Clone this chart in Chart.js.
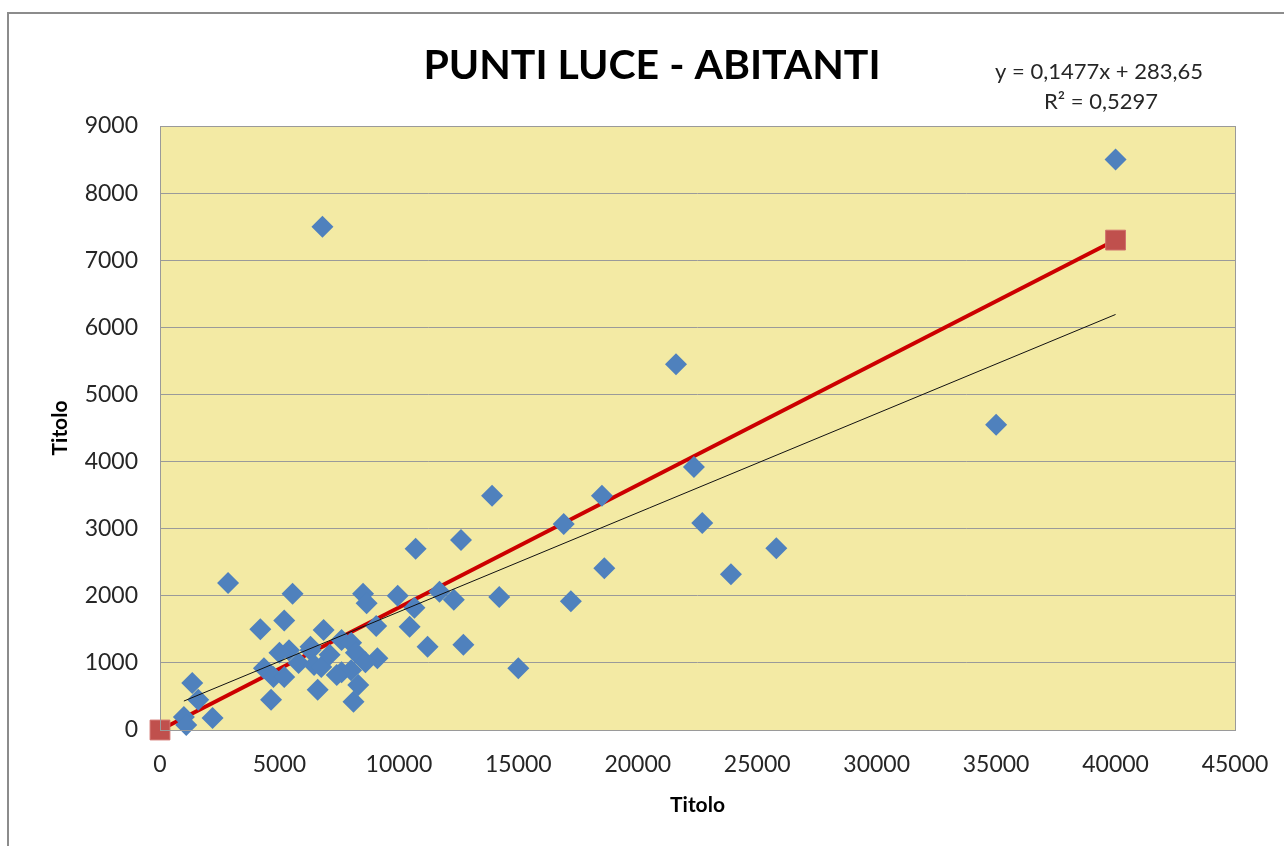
<!DOCTYPE html>
<html>
<head>
<meta charset="utf-8">
<script src="https://cdn.jsdelivr.net/npm/chart.js@4.4.1/dist/chart.umd.min.js"></script>
<style>
  html, body { margin: 0; padding: 0; background: #fff; }
  #wrap { width: 1284px; height: 846px; position: relative; }
</style>
</head>
<body>
<div id="wrap"><canvas id="scatterChart" width="1284" height="846"></canvas></div>
<script>
// abitanti (x) vs punti luce (y)
const abitanti = [
    40000, 6800, 21600, 35000, 22350, 13900, 18500, 16900, 22700, 12600,
    25800, 10700, 18600, 23900, 2850, 5550, 8500, 9950, 14200, 11700,
    8650, 10650, 12300, 17200, 4200, 5200, 6850, 9050, 10450, 11200,
    12700, 15000, 1350, 1600, 1000, 1100, 2200, 5400, 5000, 6300,
    7600, 8000, 8200, 9100, 8600, 4350, 4750, 5200, 5800, 6450,
    6750, 7600, 8000, 6600, 8300, 4650, 8100, 7100, 7400, 6300
];
const puntiLuce = [
    8500, 7500, 5450, 4550, 3920, 3490, 3490, 3070, 3085, 2830,
    2710, 2700, 2410, 2320, 2190, 2030, 2030, 2000, 1980, 2060,
    1890, 1820, 1940, 1920, 1500, 1630, 1490, 1550, 1540, 1240,
    1270, 920, 700, 450, 195, 75, 180, 1190, 1150, 1190,
    1340, 1300, 1150, 1070, 1010, 920, 790, 790, 1000, 970,
    940, 860, 890, 600, 670, 450, 420, 1120, 820, 1240
];

// red reference line (two square markers)
const refX = [0, 40000];
const refY = [0, 7300];

// excel linear trendline
const trendSlope = 0.1477;
const trendIntercept = 283.65;
const trendFrom = 1000;
const trendTo = 40000;
const trendLabels = ['y = 0,1477x + 283,65', 'R\u00b2 = 0,5297'];

const chartTitle = 'PUNTI LUCE - ABITANTI';
const xAxisTitle = 'Titolo';
const yAxisTitle = 'Titolo';

const pairs = (xs, ys) => xs.map((x, i) => ({ x: x, y: ys[i] }));

const frame = {
    id: 'frame',
    beforeDraw(chart) {
        const { ctx, chartArea: a } = chart;
        ctx.save();
        ctx.fillStyle = '#ffffff';
        ctx.fillRect(0, 0, chart.width, chart.height);
        ctx.strokeStyle = '#8c8c8c';
        ctx.lineWidth = 2;
        ctx.strokeRect(8, 13, 1400, 1000);
        ctx.fillStyle = '#f3eaa4';
        ctx.fillRect(a.left, a.top, a.right - a.left, a.bottom - a.top);
        ctx.restore();
    },
    afterDatasetsDraw(chart) {
        const { ctx, chartArea: a } = chart;
        ctx.save();
        ctx.strokeStyle = '#9a9a9a';
        ctx.lineWidth = 1;
        ctx.strokeRect(a.left + 0.5, a.top + 0.5, a.right - a.left, a.bottom - a.top);
        ctx.fillStyle = '#000';
        ctx.textAlign = 'center';
        ctx.textBaseline = 'middle';
        ctx.font = 'bold 41px Lato';
        ctx.fillText(chartTitle, 652, 66);
        ctx.fillStyle = '#262626';
        ctx.font = '22px Lato';
        ctx.fillText(trendLabels[0], 1099, 72);
        ctx.fillText(trendLabels[1], 1101, 102);
        ctx.restore();
    }
};

const plainTick = (value) => String(value);

const ctx = document.getElementById('scatterChart').getContext('2d');
const scatterChart = new Chart(ctx, {
    type: 'scatter',
    data: {
        datasets: [{
            label: 'Lineare',
            type: 'line',
            data: [
                { x: trendFrom, y: trendSlope * trendFrom + trendIntercept },
                { x: trendTo, y: trendSlope * trendTo + trendIntercept }
            ],
            borderColor: '#111111',
            borderWidth: 1,
            pointRadius: 0,
            fill: false,
            order: 0
        }, {
            label: 'Punti luce',
            data: pairs(abitanti, puntiLuce),
            pointStyle: 'rectRot',
            pointRadius: 11,
            backgroundColor: '#4f81bd',
            borderColor: '#4f81bd',
            borderWidth: 0,
            clip: false,
            order: 1
        }, {
            label: 'Riferimento',
            type: 'line',
            data: pairs(refX, refY),
            borderColor: '#cc0000',
            borderWidth: 4,
            pointStyle: 'rect',
            pointRadius: 14,
            pointBackgroundColor: '#c0504d',
            pointBorderColor: '#d0706c',
            pointBorderWidth: 1,
            fill: false,
            clip: false,
            order: 2
        }]
    },
    options: {
        responsive: false,
        animation: false,
        layout: { padding: { top: 126, right: 49, bottom: 0, left: 0 } },
        plugins: {
            legend: { display: false },
            tooltip: { enabled: false }
        },
        scales: {
            x: {
                type: 'linear',
                min: 0,
                max: 45000,
                afterFit: (scale) => {
                    scale.height = 116;
                    scale.paddingLeft = 0;
                    scale.paddingRight = 0;
                },
                ticks: {
                    stepSize: 5000,
                    color: '#262626',
                    font: { family: 'Lato', size: 23 },
                    padding: 21,
                    maxRotation: 0,
                    callback: plainTick
                },
                grid: { display: false, drawTicks: false },
                border: { color: '#9a9a9a' },
                title: {
                    display: true,
                    text: xAxisTitle,
                    color: '#000',
                    font: { family: 'Lato', size: 21, weight: 'bold' },
                    padding: { top: 0, bottom: 28 }
                }
            },
            y: {
                type: 'linear',
                min: 0,
                max: 9000,
                afterFit: (scale) => { scale.width = 160; },
                ticks: {
                    stepSize: 1000,
                    color: '#262626',
                    font: { family: 'Lato', size: 23 },
                    padding: 22,
                    callback: plainTick
                },
                grid: { color: '#9a9a9a', drawTicks: false },
                border: { display: false },
                title: {
                    display: true,
                    text: yAxisTitle,
                    color: '#000',
                    font: { family: 'Lato', size: 21, weight: 'bold' },
                    padding: { top: 48, bottom: 0 }
                }
            }
        }
    },
    plugins: [frame]
});
</script>
</body>
</html>
